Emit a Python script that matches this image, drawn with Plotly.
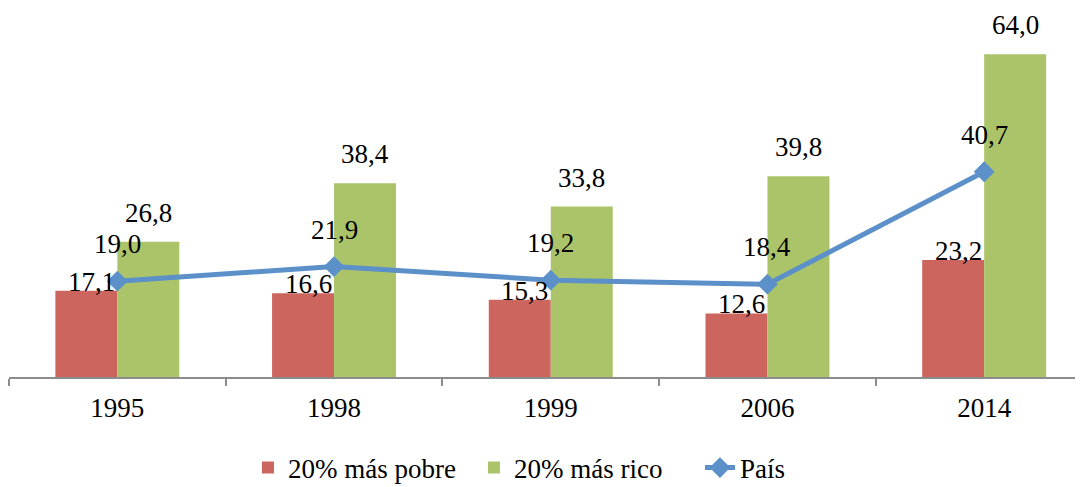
import plotly.graph_objects as go

years = ["1995", "1998", "1999", "2006", "2014"]
pobre = [17.1, 16.6, 15.3, 12.6, 23.2]
rico = [26.8, 38.4, 33.8, 39.8, 64.0]
pais = [19.0, 21.9, 19.2, 18.4, 40.7]

c_red = "#CD655F"
c_green = "#ABC46A"
c_blue = "#5B90C9"
FONT = "Liberation Serif, Times New Roman, serif"
FS = 27


def fmt(v):
    return f"{v:.1f}".replace(".", ",")


fig = go.Figure()
fig.add_trace(go.Bar(x=years, y=pobre, name="20% más pobre", marker=dict(color=c_red, line=dict(width=0))))
fig.add_trace(go.Bar(x=years, y=rico, name="20% más rico", marker=dict(color=c_green, line=dict(width=0))))
fig.add_trace(go.Scatter(x=years, y=pais, name="País", mode="lines+markers",
                         line=dict(color=c_blue, width=5),
                         marker=dict(symbol="diamond", size=16, color=c_blue)))

half = 0.286 / 2
ann = []
for i, y in enumerate(years):
    ann.append(dict(x=i - half, y=pobre[i], text=fmt(pobre[i]), xref="x", yref="y",
                    showarrow=False, yanchor="middle", yshift=9, xshift=5,
                    font=dict(family=FONT, size=FS, color="black")))
    ann.append(dict(x=i + half, y=rico[i], text=fmt(rico[i]), xref="x", yref="y",
                    showarrow=False, yanchor="middle", yshift=29,
                    font=dict(family=FONT, size=FS, color="black")))
    ann.append(dict(x=i, y=pais[i], text=fmt(pais[i]), xref="x", yref="y",
                    showarrow=False, yanchor="middle", yshift=37,
                    font=dict(family=FONT, size=FS, color="black")))

fig.update_layout(
    width=1083, height=479,
    margin=dict(l=1, r=8, t=16, b=110, autoexpand=False),
    paper_bgcolor="white", plot_bgcolor="white",
    barmode="group", bargap=0.428, bargroupgap=0,
    font=dict(family=FONT, size=FS, color="black"),
    showlegend=True,
    legend=dict(orientation="h", x=0.2225, xanchor="left", y=-0.258, yanchor="middle",
                font=dict(family=FONT, size=FS, color="black"),
                entrywidth=181, entrywidthmode="pixels",
                traceorder="normal"),
    annotations=ann,
)
fig.update_xaxes(type="category", range=[-0.5, 4.456], showline=True, linecolor="#8C8C8C", linewidth=1.5,
                 ticks="outside", tickson="boundaries", ticklen=7, tickcolor="#8C8C8C", tickwidth=1.5,
                 ticklabelstandoff=6,
                 showgrid=False, zeroline=False, automargin=False,
                 tickfont=dict(family=FONT, size=FS, color="black"))
fig.update_yaxes(range=[0, 70], visible=False, showgrid=False, zeroline=False, automargin=False)

fig.write_html("out.html")
